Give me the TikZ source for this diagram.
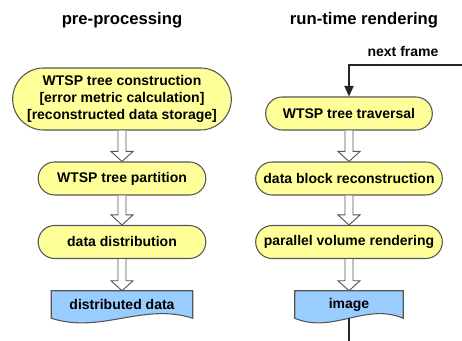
\documentclass[tikz,border=0pt]{standalone}
\usepackage{fontspec}
\setmainfont{Liberation Sans}
\usetikzlibrary{shapes.misc}
\usetikzlibrary{arrows.meta}
\usetikzlibrary{calc}
\usetikzlibrary{backgrounds}
\definecolor{stepyellow}{RGB}{255,255,153}
\definecolor{docblue}{RGB}{153,204,255}
\definecolor{edgegray}{RGB}{85,85,85}
\newcommand{\boxfont}{\fontsize{10.5}{13}\selectfont\bfseries}
\newcommand{\blockarrow}[2]{%
  \draw[hollowarrow] let \p1=(#1.south), \p2=(#2.north) in
    (\x1-3pt,\y1) -- (\x1-3pt,\y2+7.5pt) -- (\x1-8.25pt,\y2+7.5pt) -- (\x1,\y2)
    -- (\x1+8.25pt,\y2+7.5pt) -- (\x1+3pt,\y2+7.5pt) -- (\x1+3pt,\y1);}
\newcommand{\docshape}[1]{%
  \begin{scope}[on background layer]
  \draw[docline] let \p1=(#1.south west), \p2=(#1.north east), \n1={\x2-\x1} in
    (\x1,\y1) -- (\x1,\y2) -- (\x2,\y2) -- (\x2,\y1)
    .. controls (\x2-0.35*\n1,\y1+12pt) and (\x1+0.35*\n1,\y1-12pt) .. (\x1,\y1) -- cycle;
  \end{scope}}

\begin{document}
\begin{tikzpicture}[x=0.75pt,y=-0.75pt,
    stepbox/.style={rounded rectangle,draw=edgegray,fill=stepyellow,line width=0.8pt,
      font=\boxfont,align=center,minimum height=24.75pt,inner sep=2pt},
    docbox/.style={font=\boxfont,minimum height=20.25pt,inner sep=2pt},
    docline/.style={draw=edgegray,fill=docblue,line width=0.8pt},
    hollowarrow/.style={draw=edgegray,fill=white,line width=0.7pt},
    title/.style={font=\fontsize{12.5}{15}\selectfont\bfseries},
    loopline/.style={draw=black!85,line width=0.9pt}]
  \useasboundingbox (0,0) rectangle (462,341);
  \node[title] (pre) at (122,20) {pre-processing};
  \node[title] (run) at (364,20) {run-time rendering};

  \node[stepbox,minimum width=168pt,minimum height=46.5pt] (construct) at (122,99)
    {WTSP tree construction\\{}[error metric calculation]\\{}[reconstructed data storage]};
  \node[stepbox,minimum width=129.75pt] (partition) at (122,178.5) {WTSP tree partition};
  \node[stepbox,minimum width=129.75pt] (distrib) at (122,242) {data distribution};
  \node[docbox,minimum width=105.75pt] (ddata) at (122,304.5) {distributed data};
  \docshape{ddata}

  \node[stepbox,minimum width=129pt] (traverse) at (349,113.5) {WTSP tree traversal};
  \node[stepbox,minimum width=144pt] (reconstruct) at (349,178.5) {data block reconstruction};
  \node[stepbox,minimum width=144pt] (render) at (349,242) {parallel volume rendering};
  \node[docbox,minimum width=81pt] (image) at (349,304.5) {image};
  \docshape{image}

  \node[font=\boxfont] (next) at (403,52) {next frame};
  \coordinate (nf) at (462,65);
  \coordinate (out) at (349,341);

  \blockarrow{construct}{partition}
  \blockarrow{partition}{distrib}
  \blockarrow{distrib}{ddata}
  \blockarrow{traverse}{reconstruct}
  \blockarrow{reconstruct}{render}
  \blockarrow{render}{image}

  \draw[loopline,-{Triangle[width=7pt,length=8pt]}] (nf) -| (traverse.north);
  \draw[loopline] (image.south) -- (out);
\end{tikzpicture}
\end{document}
